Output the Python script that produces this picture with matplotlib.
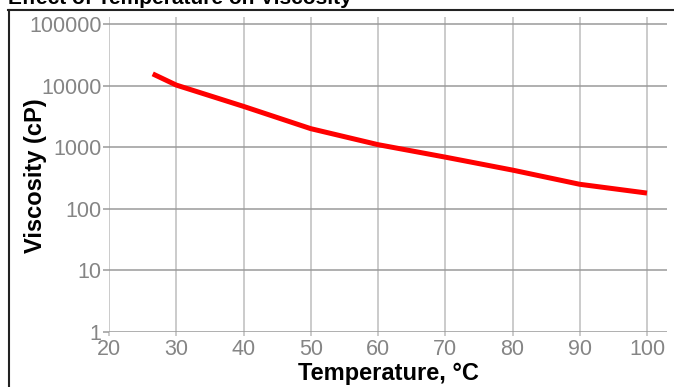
import matplotlib
matplotlib.use("Agg")
import matplotlib.pyplot as plt
from matplotlib.lines import Line2D

plt.rcParams['font.family'] = ['Liberation Sans', 'DejaVu Sans']

temperature = [26.5, 30, 40, 50, 60, 70, 80, 90, 100]
viscosity = [15500, 10200, 4600, 2000, 1100, 690, 425, 250, 180]
x_ticks = [20, 30, 40, 50, 60, 70, 80, 90, 100]
y_ticks = [1, 10, 100, 1000, 10000, 100000]
y_tick_labels = ["1", "10", "100", "1000", "10000", "100000"]

W, H = 674, 387
fig = plt.figure(figsize=(W / 100, H / 100), dpi=100)
ax = fig.add_axes([109 / W, (H - 332) / H, (667 - 109) / W, (332 - 17) / H])

ax.plot(temperature, viscosity, color='#ff0000', lw=3.6, solid_capstyle='butt', zorder=3)
ax.set_yscale('log')
ax.set_xlim(20, 100 + 20 / 6.725)
ax.set_ylim(1, 10 ** (5 + 7 / 61.6))
ax.set_xticks(x_ticks)
ax.set_xticklabels([str(v) for v in x_ticks])
ax.set_yticks(y_ticks)
ax.set_yticklabels(y_tick_labels)
ax.minorticks_off()

for s in ax.spines.values():
    s.set_visible(False)

ax.xaxis.grid(True, color='#bdbdbd', lw=1.1)
ax.yaxis.grid(True, color='#9a9a9a', lw=1.1)
ax.set_axisbelow(True)
ax.tick_params(axis='x', direction='out', length=3, width=1.1, color='#bdbdbd',
               labelcolor='#858585', labelsize=15.5, pad=2)
ax.tick_params(axis='y', direction='out', length=4.3, width=1.1, color='#9a9a9a',
               labelcolor='#858585', labelsize=15.5, pad=1)

fig.text(388 / W, 1 - 380 / H, "Temperature, °C", ha='center', va='baseline',
         fontsize=17, fontweight='bold', color='black')
fig.text(42 / W, 1 - 175.5 / H, "Viscosity (cP)", ha='center', va='baseline', rotation=90,
         fontsize=17, fontweight='bold', color='black', rotation_mode='anchor')
fig.text(8 / W, 1 - 4 / H, "Effect of Temperature on Viscosity", ha='left', va='baseline',
         fontsize=15, fontweight='bold', color='black')

fig.add_artist(Line2D([8.5 / W, 8.5 / W], [0, 1 - 9.5 / H], color='#222222', lw=1.5,
                      transform=fig.transFigure))
fig.add_artist(Line2D([7.8 / W, 1.0], [1 - 9.5 / H, 1 - 9.5 / H], color='#222222', lw=1.5,
                      transform=fig.transFigure))

fig.savefig("out.png", dpi=100)
